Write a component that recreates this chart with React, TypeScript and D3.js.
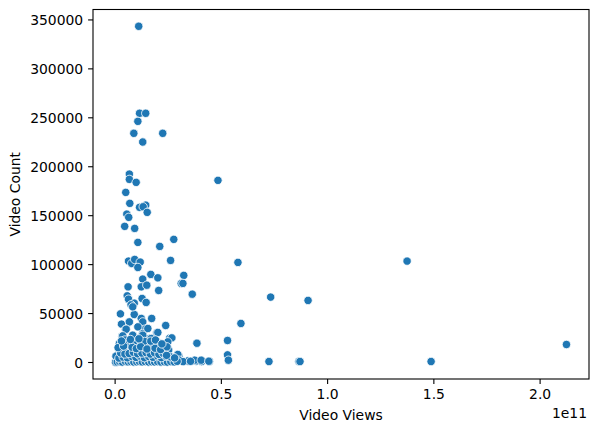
import React from "react";
import * as d3 from "d3";

// Video views (in billions) and video counts
const viewsB: number[] = [
  11.1, 11.5, 14.4, 10.7, 8.8, 22.4, 13.0, 6.7, 6.7, 9.9, 48.4, 5.0, 6.9, 14.4, 11.5, 13.2, 15.1, 5.5, 6.4, 4.5,
  9.2, 10.7, 27.6, 21.0, 6.3, 7.8, 9.2, 11.8, 10.7, 26.1, 57.8, 13.0, 16.8, 20.1, 32.3, 31.1, 31.9, 6.1, 12.3, 14.9,
  20.5, 36.3, 73.2, 5.7, 6.3, 12.7, 14.6, 9.0, 7.5, 2.5, 9.0, 8.3, 12.3, 17.2, 6.6, 59.2, 3.0, 23.8, 13.0, 4.9,
  14.0, 19.6, 13.0, 16.2, 3.3, 25.7, 26.7, 38.5, 52.9, 2.0, 5.9, 10.7, 14.6, 20.1, 52.9, 53.3, 72.4, 86.5, 44.4, 40.7,
  38.2, 34.2, 30.0, 24.8, 137.4, 90.8, 87.0, 148.7, 212.4, 6.7, 5.2, 10.7, 15.4, 20.1, 3.6, 8.3, 13.0, 17.0, 2.0, 5.2,
  9.1, 13.0, 17.0, 20.9, 1.2, 5.2, 10.7, 15.4, 20.1, 22.4, 22.4, 24.0, 29.5, 25.6, 30.3, 37.4, 40.5, 44.1, 27.5, 6.7,
  0.2, 0.4, 24.8, 13.8, 3.0, 8.0, 12.0, 16.0, 19.0, 23.0, 26.0, 28.5, 32.0, 35.5, 1.5, 4.0, 7.0, 11.0, 18.0, 21.5,
  2.8, 9.5, 14.0, 17.8, 22.8, 25.2, 6.0, 11.8, 16.5, 4.6, 8.6, 12.5,
  1.0, 2.2, 3.4, 4.8, 6.2, 7.4, 8.8, 10.2, 11.4, 12.8, 14.2, 15.8, 17.2, 18.6, 20.0, 21.6, 23.2, 24.6, 26.2, 27.8, 29.2,
  1.8, 3.8, 5.8, 7.8, 9.8, 11.8, 13.8, 15.8, 17.8, 19.8, 21.8, 23.8, 26.0, 28.0,
  2.6, 4.6, 6.6, 8.6, 10.6, 12.6, 14.6, 16.6, 18.6, 20.6, 22.6, 24.2,
  1.4, 4.0, 8.0, 10.0, 12.0, 15.0, 18.8, 21.4, 24.4,
  3.0, 7.2, 11.2, 16.8, 19.0, 22.0
];
const videoCount: number[] = [
  343500, 254600, 254600, 246400, 234150, 234150, 225260, 192500, 187100, 184050, 186100, 173800, 162600, 160800, 158500, 159100, 153400, 151600, 148300, 139100,
  137000, 122700, 125800, 118600, 103600, 101200, 105300, 102600, 97100, 104300, 102250, 85200, 90000, 86500, 89000, 80800, 80800, 77300, 77300, 79000,
  73600, 69800, 66800, 68100, 64700, 65400, 61350, 60600, 58900, 49700, 49100, 56850, 45000, 45000, 41200, 39900, 39200, 37800, 41500, 33700,
  34000, 30300, 29650, 24500, 26900, 24850, 25150, 19700, 22500, 19400, 21100, 18400, 17700, 20450, 7800, 2350, 1000, 1000, 1000, 1000,
  1600, 1600, 6450, 14300, 103600, 63400, 1000, 1000, 18400, 41500, 34000, 36400, 34750, 30700, 27200, 27900, 27900, 24500, 10850, 11550,
  10850, 10850, 12600, 10850, 2350, 3400, 4100, 2350, 4100, 2350, 17700, 10200, 8200, 2350, 2350, 2350, 2350, 1300, 4700, 17700,
  300, 6500, 21100, 21500, 1200, 1500, 1000, 900, 1400, 800, 1100, 1500, 900, 1200, 14500, 15000, 7500, 8000, 6000, 6800,
  5200, 13500, 7000, 9200, 5600, 12800, 19500, 14800, 15800, 23000, 18900, 9400,
  500, 800, 400, 1200, 600, 900, 500, 700, 1100, 600, 900, 500, 800, 600, 900, 500, 700, 400, 900, 600, 1200,
  4500, 5500, 4800, 6200, 5200, 6600, 4900, 6100, 5300, 6900, 5000, 6400, 5800, 4700,
  9800, 8700, 9200, 10400, 8900, 9600, 10100, 8600, 9900, 8300, 9400, 7300,
  15200, 16800, 15600, 14200, 16200, 13800, 14600, 13200, 16000,
  22000, 23500, 24200, 21800, 23000, 19000
];

const xTicks: number[] = [0, 0.5e11, 1.0e11, 1.5e11, 2.0e11];
const xTickLabels: string[] = ["0.0", "0.5", "1.0", "1.5", "2.0"];
const yTicks: number[] = [0, 50000, 100000, 150000, 200000, 250000, 300000, 350000];

export default function App() {
  const W = 598, H = 432;
  const left = 93, right = 589, top = 9.5, bottom = 379;
  const xVals = viewsB.map((v) => v * 1e9);
  const xMin = d3.min(xVals)!, xMax = d3.max(xVals)!;
  const yMin = d3.min(videoCount)!, yMax = d3.max(videoCount)!;
  const xPad = (xMax - xMin) * 0.05, yPad = (yMax - yMin) * 0.05;
  const x = d3.scaleLinear().domain([xMin - xPad, xMax + xPad]).range([left, right]);
  const y = d3.scaleLinear().domain([yMin - yPad, yMax + yPad]).range([bottom, top]);
  const font = "'DejaVu Sans', sans-serif";
  const fs = 13.9;
  const tick = 4.9;

  return (
    <svg width={W} height={H} style={{ position: "absolute", left: 0, top: 0, background: "#fff" }}>
      <rect x={0} y={0} width={W} height={H} fill="#fff" />
      <g>
        {xVals.map((v, i) => (
          <circle key={i} cx={x(v)} cy={y(videoCount[i])} r={4.2} fill="#1f77b4" stroke="#fff" strokeWidth={0.8} />
        ))}
      </g>
      <rect x={left} y={top} width={right - left} height={bottom - top} fill="none" stroke="#000" strokeWidth={1.1} />
      {xTicks.map((t, i) => (
        <g key={"x" + i}>
          <line x1={x(t)} x2={x(t)} y1={bottom} y2={bottom + tick} stroke="#000" strokeWidth={1.1} />
          <text x={x(t)} y={bottom + tick + 4.9 + 10.5} textAnchor="middle" fontFamily={font} fontSize={fs} fill="#000">
            {xTickLabels[i]}
          </text>
        </g>
      ))}
      {yTicks.map((t, i) => (
        <g key={"y" + i}>
          <line x1={left - tick} x2={left} y1={y(t)} y2={y(t)} stroke="#000" strokeWidth={1.1} />
          <text x={left - tick - 4.9} y={y(t)} dy="0.36em" textAnchor="end" fontFamily={font} fontSize={fs} fill="#000">
            {t}
          </text>
        </g>
      ))}
      <text x={right - 2} y={417.5} textAnchor="end" fontFamily={font} fontSize={fs} fill="#000">1e11</text>
      <text x={(left + right) / 2} y={420} textAnchor="middle" fontFamily={font} fontSize={fs} fill="#000">Video Views</text>
      <text transform={`translate(20, ${(top + bottom) / 2}) rotate(-90)`} textAnchor="middle" fontFamily={font} fontSize={fs} fill="#000">
        Video Count
      </text>
    </svg>
  );
}
